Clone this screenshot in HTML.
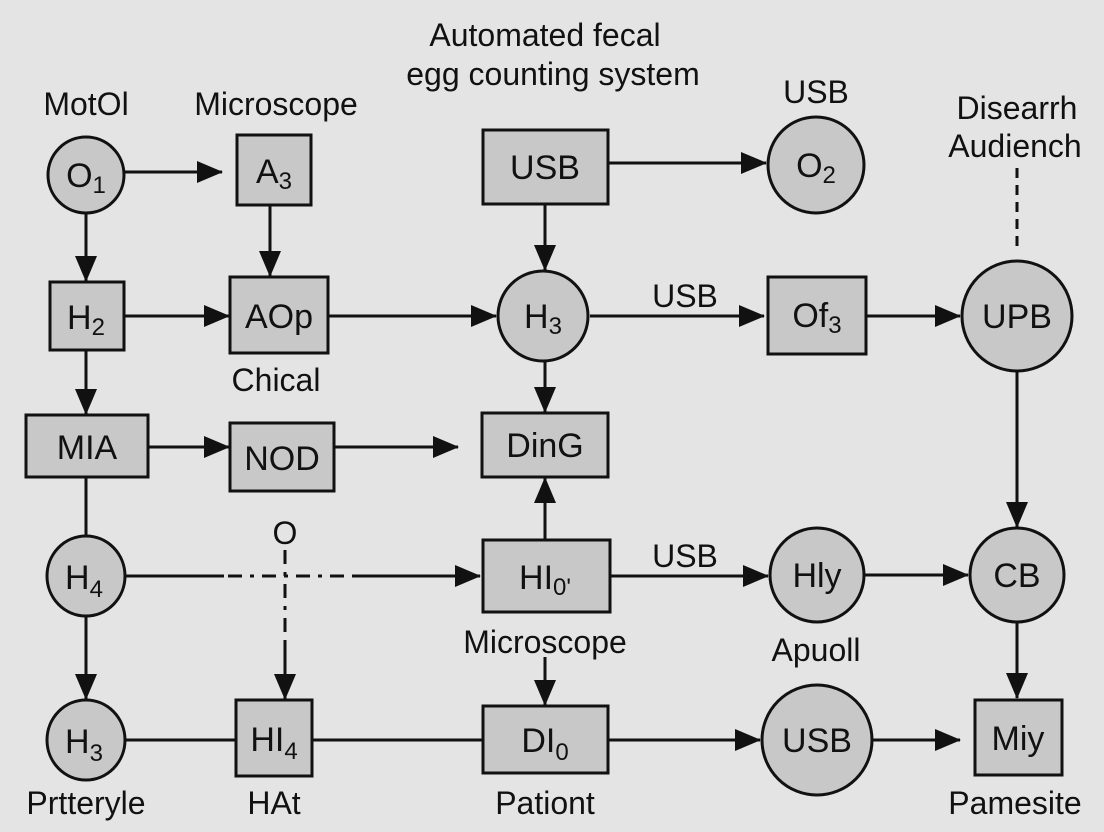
<!DOCTYPE html>
<html><head><style>
html,body{margin:0;padding:0;background:#e4e4e4;}
svg{display:block;}
text{font-family:"Liberation Sans",sans-serif;fill:#111;}
</style></head><body>
<svg width="1104" height="832" viewBox="0 0 1104 832" xmlns="http://www.w3.org/2000/svg">
<defs>
<marker id="b" markerWidth="26" markerHeight="22" refX="25" refY="11" orient="auto" markerUnits="userSpaceOnUse" viewBox="0 0 26 22">
<path d="M0,0 L26,11 L0,22 z" fill="#111"/>
</marker>
</defs>
<rect width="1104" height="832" fill="#e4e4e4"/>
<g stroke="#111" stroke-width="3" fill="none">
<line x1="125" y1="172" x2="222" y2="172" marker-end="url(#b)"/>
<line x1="270" y1="205" x2="270" y2="276" marker-end="url(#b)"/>
<line x1="86" y1="213" x2="86" y2="281" marker-end="url(#b)"/>
<line x1="124" y1="316" x2="229" y2="316" marker-end="url(#b)"/>
<line x1="328" y1="316" x2="496" y2="316" marker-end="url(#b)"/>
<line x1="86" y1="350" x2="86" y2="414" marker-end="url(#b)"/>
<line x1="148" y1="447" x2="229" y2="447" marker-end="url(#b)"/>
<line x1="334" y1="447" x2="458" y2="447" marker-end="url(#b)"/>
<line x1="545" y1="204" x2="545" y2="270" marker-end="url(#b)"/>
<line x1="608" y1="163" x2="766" y2="163" marker-end="url(#b)"/>
<line x1="590" y1="316" x2="764" y2="316" marker-end="url(#b)"/>
<line x1="866" y1="316" x2="960" y2="316" marker-end="url(#b)"/>
<line x1="1017" y1="168" x2="1017" y2="252" stroke-dasharray="10,7"/>
<line x1="545" y1="361" x2="545" y2="412" marker-end="url(#b)"/>
<line x1="1017" y1="371" x2="1017" y2="527" marker-end="url(#b)"/>
<line x1="545" y1="540" x2="545" y2="478" marker-end="url(#b)"/>
<line x1="86" y1="477" x2="86" y2="536"/>
<line x1="126" y1="576" x2="224" y2="576"/>
<line x1="228" y1="576" x2="352" y2="576" stroke-dasharray="14,8,4,8"/>
<line x1="352" y1="576" x2="480" y2="576" marker-end="url(#b)"/>
<line x1="285" y1="550" x2="285" y2="640" stroke-dasharray="14,8,4,8"/>
<line x1="285" y1="640" x2="285" y2="699" marker-end="url(#b)"/>
<line x1="610" y1="576" x2="768" y2="576" marker-end="url(#b)"/>
<line x1="864" y1="575" x2="968" y2="575" marker-end="url(#b)"/>
<line x1="545" y1="657" x2="545" y2="705" marker-end="url(#b)"/>
<line x1="1017" y1="622" x2="1017" y2="698" marker-end="url(#b)"/>
<line x1="86" y1="616" x2="86" y2="699" marker-end="url(#b)"/>
<line x1="126" y1="740" x2="236" y2="740"/>
<line x1="312" y1="740" x2="483" y2="740"/>
<line x1="608" y1="740" x2="760" y2="740" marker-end="url(#b)"/>
<line x1="872" y1="740" x2="960" y2="740" marker-end="url(#b)"/>
</g>
<g fill="#c8c8c8" stroke="#111" stroke-width="3">
<circle cx="86" cy="175" r="38"/>
<rect x="237" y="135" width="74" height="70"/>
<rect x="50" y="282" width="74" height="68"/>
<rect x="230" y="277" width="98" height="76"/>
<rect x="26" y="415" width="122" height="62"/>
<rect x="230" y="423" width="104" height="68"/>
<rect x="483" y="130" width="125" height="74"/>
<circle cx="816" cy="165" r="48"/>
<circle cx="543" cy="316" r="45"/>
<rect x="768" y="277" width="98" height="77"/>
<circle cx="1017" cy="316" r="55"/>
<rect x="482" y="413" width="126" height="64"/>
<rect x="483" y="540" width="127" height="72"/>
<circle cx="817" cy="575" r="47"/>
<circle cx="1017" cy="575" r="47"/>
<ellipse cx="86" cy="576" rx="39" ry="40"/>
<ellipse cx="86" cy="740" rx="39" ry="40"/>
<rect x="236" y="700" width="76" height="76"/>
<rect x="483" y="706" width="125" height="67"/>
<circle cx="817" cy="740" r="55"/>
<rect x="975" y="700" width="87" height="75"/>
</g>
<g font-size="34" text-anchor="middle">
<text x="86" y="187">O<tspan font-size="24" dy="6">1</tspan></text>
<text x="274" y="183">A<tspan font-size="24" dy="6">3</tspan></text>
<text x="86" y="329">H<tspan font-size="24" dy="6">2</tspan></text>
<text x="279" y="328">AOp</text>
<text x="87" y="459">MIA</text>
<text x="282" y="470">NOD</text>
<text x="545" y="179">USB</text>
<text x="816" y="177">O<tspan font-size="24" dy="6">2</tspan></text>
<text x="543" y="328">H<tspan font-size="24" dy="6">3</tspan></text>
<text x="817" y="327">Of<tspan font-size="24" dy="6">3</tspan></text>
<text x="1017" y="328">UPB</text>
<text x="545" y="457">DinG</text>
<text x="545" y="589">HI<tspan font-size="24" dy="6">0'</tspan></text>
<text x="817" y="587">Hly</text>
<text x="1017" y="587">CB</text>
<text x="84" y="589">H<tspan font-size="24" dy="8">4</tspan></text>
<text x="84" y="753">H<tspan font-size="24" dy="8">3</tspan></text>
<text x="274" y="751">HI<tspan font-size="24" dy="8">4</tspan></text>
<text x="545" y="752">DI<tspan font-size="24" dy="8">0</tspan></text>
<text x="817" y="752">USB</text>
<text x="1018" y="750">Miy</text>
</g>
<g font-size="32" text-anchor="middle">
<text x="545" y="46">Automated fecal</text>
<text x="553" y="85">egg counting system</text>
<text x="86" y="115">MotOl</text>
<text x="276" y="115">Microscope</text>
<text x="816" y="103">USB</text>
<text x="1017" y="119">Disearrh</text>
<text x="1015" y="157">Audiench</text>
<text x="276" y="391">Chical</text>
<text x="685" y="307">USB</text>
<text x="685" y="567">USB</text>
<text x="285" y="544">O</text>
<text x="545" y="653">Microscope</text>
<text x="816" y="661">Apuoll</text>
<text x="86" y="814">Prtteryle</text>
<text x="274" y="814">HAt</text>
<text x="545" y="814">Pationt</text>
<text x="1015" y="814">Pamesite</text>
</g>
</svg>
</body></html>
